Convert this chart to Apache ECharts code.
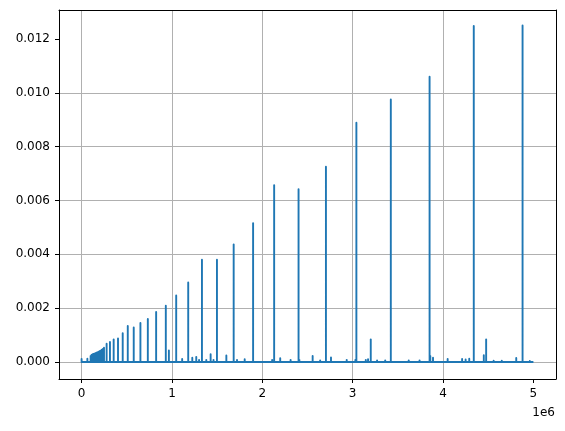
<!DOCTYPE html>
<html>
<head>
<meta charset="utf-8">
<script src="https://cdn.jsdelivr.net/npm/echarts@6/dist/echarts.min.js"></script>
<style>html,body{margin:0;padding:0;background:#fff}#c{width:565px;height:431px}</style>
</head>
<body>
<div id="c"></div>
<script>
// Tall spikes: positions (x) and heights (y)
const peakX = [248000, 277000, 314000, 355000, 403000, 455000, 511000, 577000, 651000, 733000, 825000, 932000, 966000,
  1047000, 1180000, 1332000, 1498000, 1683000, 1898000, 2131000, 2401000, 2704000, 3041000, 3200000, 3422000,
  3851000, 4340000, 4477000, 4880000];
const peakY = [0.00053, 0.00068, 0.00074, 0.00084, 0.00087, 0.00107, 0.00134, 0.00128, 0.00145, 0.00160, 0.00186, 0.00209, 0.00043,
  0.00247, 0.00295, 0.00380, 0.00380, 0.00437, 0.00516, 0.00657, 0.00642, 0.00725, 0.00889, 0.00084, 0.00975,
  0.01060, 0.01248, 0.00084, 0.01250];
// Dense cluster of small spikes near the start
const clusterX = [100000, 110000, 120000, 130000, 140000, 150000, 160000, 170000, 180000, 190000, 200000, 210000, 220000, 230000, 240000];
const clusterY = [0.00022, 0.00026, 0.00028, 0.00030, 0.00031, 0.00032, 0.00034, 0.00035, 0.00036, 0.00038, 0.00040, 0.00042, 0.00045, 0.00047, 0.00049];
// Small bumps along the baseline
const bumpX = [0, 64000, 1113000, 1225000, 1269000, 1300000, 1380000, 1428000, 1460000, 1602000, 1720000, 1805000, 2109000, 2198000,
  2313000, 2410000, 2557000, 2640000, 2760000, 2934000, 3030000, 3145000, 3170000, 3270000, 3360000, 3620000, 3740000,
  3859000, 3889000, 4051000, 4211000, 4250000, 4290000, 4451000, 4560000, 4650000, 4810000, 4960000];
const bumpY = [0.00011, 0.00012, 0.00011, 0.00016, 0.00019, 0.00008, 0.00008, 0.00029, 0.00008, 0.00024, 0.00008, 0.00010, 0.00008, 0.00014,
  0.00008, 0.00008, 0.00022, 0.00006, 0.00017, 0.00008, 0.00008, 0.00008, 0.00010, 0.00006, 0.00006, 0.00006, 0.00006,
  0.00022, 0.00016, 0.00011, 0.00011, 0.00009, 0.00012, 0.00025, 0.00005, 0.00005, 0.00015, 0.00004];
const dataStart = 0, dataEnd = 5000000;
// Tick labels
const xTicks = [0, 1000000, 2000000, 3000000, 4000000, 5000000];
const yTicks = [0, 0.002, 0.004, 0.006, 0.008, 0.010, 0.012];
const xMin = -250000, xMax = 5250000, yMin = -0.000632, yMax = 0.013075;

// Build line data: each event is a single-sample spike off the baseline
const events = [];
peakX.forEach((x, i) => events.push([x, peakY[i]]));
clusterX.forEach((x, i) => events.push([x, clusterY[i]]));
bumpX.forEach((x, i) => events.push([x, bumpY[i]]));
events.sort((a, b) => a[0] - b[0]);
const lineData = [[dataStart, 0]];
events.forEach(([x, y]) => { lineData.push([x, 0], [x, y], [x, 0]); });
lineData.push([dataEnd, 0]);

const font = 'DejaVu Sans';
const frameAxis = {axisLine: {show: true, onZero: false, lineStyle: {color: '#000', width: 1}},
  axisTick: {show: false}, axisLabel: {show: false}, splitLine: {show: false}};
const chart = echarts.init(document.getElementById('c'), null, {renderer: 'canvas'});
chart.setOption({
  animation: false,
  backgroundColor: '#fff',
  title: {text: '1e6', right: 10, top: 407, textStyle: {fontFamily: font, fontSize: 12, fontWeight: 'normal', color: '#000'}, padding: 0},
  grid: {left: 59, top: 10, width: 497, height: 369, show: false},
  xAxis: [{
    type: 'value', min: xMin, max: xMax, splitNumber: 5, position: 'bottom',
    axisLine: {show: true, onZero: false, lineStyle: {color: '#000', width: 1}},
    axisTick: {show: true, inside: false, length: 4, lineStyle: {color: '#000', width: 1}, customValues: xTicks},
    axisLabel: {customValues: xTicks, margin: 9, fontFamily: font, fontSize: 12, color: '#000', formatter: v => String(Math.round(v / 1e6))},
    splitLine: {show: true, showMinLine: true, showMaxLine: false, lineStyle: {color: '#b0b0b0', width: 1}}
  }, Object.assign({type: 'value', min: xMin, max: xMax, position: 'top'}, frameAxis)],
  yAxis: [{
    type: 'value', min: yMin, max: yMax, splitNumber: 7, position: 'left',
    axisLine: {show: true, onZero: false, lineStyle: {color: '#000', width: 1}},
    axisTick: {show: true, inside: false, length: 4, lineStyle: {color: '#000', width: 1}, customValues: yTicks},
    axisLabel: {customValues: yTicks, margin: 9, fontFamily: font, fontSize: 12, color: '#000', formatter: v => v.toFixed(3)},
    splitLine: {show: true, showMinLine: true, showMaxLine: false, lineStyle: {color: '#b0b0b0', width: 1}}
  }, Object.assign({type: 'value', min: yMin, max: yMax, position: 'right'}, frameAxis)],
  series: [{
    type: 'lines', coordinateSystem: 'cartesian2d', polyline: true, silent: true, z: 3,
    xAxisIndex: 0, yAxisIndex: 0,
    lineStyle: {color: '#1f77b4', width: 1.9, opacity: 1, join: 'round', cap: 'butt'},
    data: [{coords: lineData}]
  }]
});
</script>
</body>
</html>
